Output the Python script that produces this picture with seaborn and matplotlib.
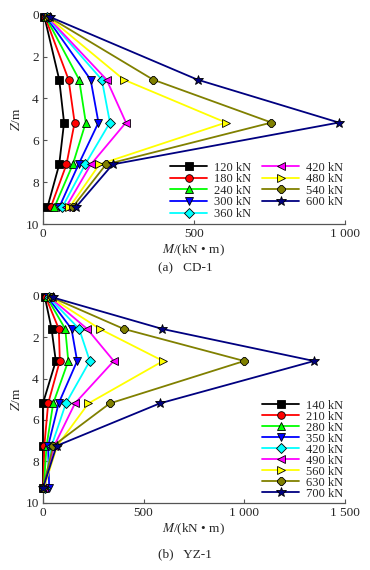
import numpy as np
import pandas as pd
import matplotlib
matplotlib.use('Agg')
import matplotlib.pyplot as plt
import seaborn as sns

sns.set_theme(style='ticks')
plt.rcParams['font.family'] = ['Liberation Serif', 'DejaVu Serif']
plt.rcParams['mathtext.fontset'] = 'stix'

# ---------------- data ----------------
# panel (a) CD-1
depth_a = [0.1, 3.1, 5.15, 7.15, 9.2]
loads_a = ['120 kN', '180 kN', '240 kN', '300 kN', '360 kN',
           '420 kN', '480 kN', '540 kN', '600 kN']
moment_a = [
    [5, 54, 70, 54, 15],
    [7, 85, 105, 78, 26],
    [9, 120, 142, 99, 38],
    [11, 158, 184, 118, 54],
    [13, 195, 222, 140, 64],
    [15, 211, 275, 159, 76],
    [17, 268, 606, 187, 88],
    [19, 365, 757, 209, 98],
    [23, 512, 980, 231, 109],
]

# panel (b) YZ-1
depth_b = [0.08, 1.6, 3.15, 5.2, 7.25, 9.3]
loads_b = ['140 kN', '210 kN', '280 kN', '350 kN', '420 kN',
           '490 kN', '560 kN', '630 kN', '700 kN']
moment_b = [
    [10, 43, 64, 0, 0, 0],
    [15, 79, 84, 26, 7, 2],
    [20, 111, 126, 51, 18, 4],
    [25, 142, 170, 78, 26, 31],
    [30, 180, 233, 114, 43, 8],
    [35, 220, 352, 159, 56, 6],
    [40, 283, 597, 226, 71, 4],
    [45, 402, 1000, 332, 51, 0],
    [50, 593, 1347, 580, 68, 0],
]

colors = ['#000000', '#ff0000', '#00ff00', '#0000ff', '#00ffff',
          '#ff00ff', '#ffff00', '#808000', '#000080']
markers = ['s', 'o', '^', 'v', 'D', '<', '>', '8', '*']


def draw_panel(ax, depth, loads, moments, xmax, xticks, xticklabels):
    for i, lab in enumerate(loads):
        df = pd.DataFrame({'M': moments[i], 'Z': depth})
        sns.lineplot(data=df, x='M', y='Z', ax=ax, sort=False, orient='y',
                     estimator=None, color=colors[i], marker=markers[i],
                     markersize=7 if markers[i] == '*' else 5.5,
                     markeredgecolor='black', markeredgewidth=0.6,
                     linewidth=1.3, label=lab, clip_on=False, zorder=3 + i)
    ax.set_xlim(0, xmax)
    ax.set_ylim(10, 0)
    ax.set_xticks(xticks)
    ax.set_xticklabels(xticklabels)
    ax.set_yticks([0, 2, 4, 6, 8, 10])
    ax.set_yticklabels(['0', '2', '4', '6', '8', '10'])
    for s in ['top', 'right']:
        ax.spines[s].set_visible(False)
    for s in ['left', 'bottom']:
        ax.spines[s].set_color('#555555')
        ax.spines[s].set_linewidth(0.9)
    ax.tick_params(direction='in', length=3, width=0.8, color='#555555',
                   labelsize=9.5, pad=3)
    ax.set_xlabel(r'$\mathit{M}$/(kN • m)', fontsize=9.5, labelpad=2)
    ax.set_ylabel(r'$\mathit{Z}$/m', fontsize=9.5, labelpad=2)


fig = plt.figure(figsize=(3.7, 5.7), dpi=100)

ax1 = fig.add_axes([0.116, 0.607, 0.816, 0.367])
draw_panel(ax1, depth_a, loads_a, moment_a, 1000, [0, 500, 1000],
           ['0', '500', '1 000'])
ax1.legend(ncol=2, loc='lower right', bbox_to_anchor=(1.01, -0.005),
           frameon=False, fontsize=9, handlelength=3.0, handletextpad=0.5,
           columnspacing=0.9, labelspacing=-0.03, borderaxespad=0.0)

ax2 = fig.add_axes([0.116, 0.118, 0.816, 0.363])
draw_panel(ax2, depth_b, loads_b, moment_b, 1500, [0, 500, 1000, 1500],
           ['0', '500', '1 000', '1 500'])
ax2.legend(ncol=1, loc='lower right', bbox_to_anchor=(1.01, -0.01),
           frameon=False, fontsize=9, handlelength=3.0, handletextpad=0.5,
           labelspacing=-0.08, borderaxespad=0.0)

fig.text(0.5, 0.530, '(a)   CD-1', ha='center', va='center', fontsize=9.5)
fig.text(0.5, 0.027, '(b)   YZ-1', ha='center', va='center', fontsize=9.5)

fig.savefig('out.png', dpi=100)
